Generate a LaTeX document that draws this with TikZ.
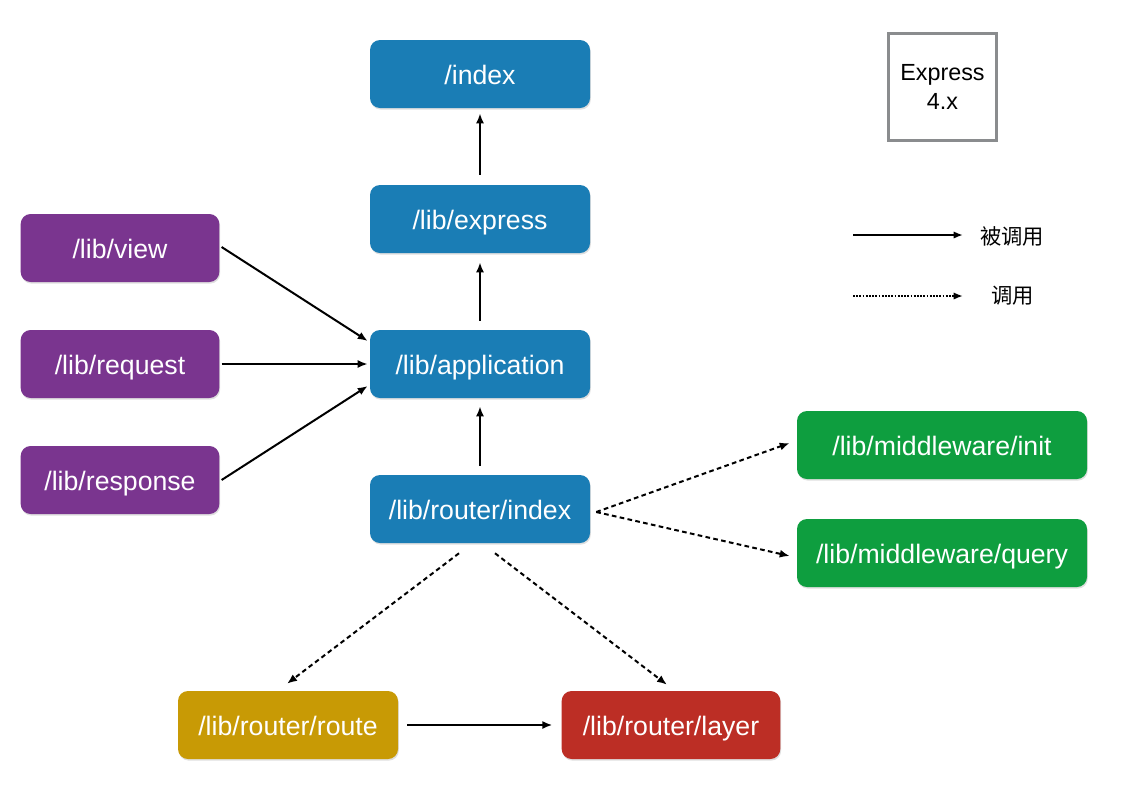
\documentclass[tikz,border=0pt]{standalone}
\usepackage{fontspec}
\setmainfont{Liberation Sans}
\newfontfamily\cjk{Noto Sans CJK SC}
\usetikzlibrary{arrows.meta,shadows,calc}
\definecolor{cblue}{HTML}{1A7DB5}
\definecolor{cpurple}{HTML}{7A358F}
\definecolor{cgreen}{HTML}{0E9E3F}
\definecolor{cgold}{HTML}{C89A05}
\definecolor{cred}{HTML}{BC2E25}
\definecolor{cgray}{HTML}{8A8C8E}
\begin{document}
\begin{tikzpicture}[x=0.75pt,y=-0.75pt,
  box/.style={rounded corners=7.5pt, minimum height=51pt, inner sep=0pt, text=white,
    font=\fontsize{20}{24}\selectfont, text height=18.5pt, text depth=2.5pt,
    drop shadow={opacity=0.25, shadow xshift=0.6pt, shadow yshift=-1.2pt}},
  bluebox/.style={box, fill=cblue, minimum width=165pt},
  purplebox/.style={box, fill=cpurple, minimum width=149pt},
  greenbox/.style={box, fill=cgreen, minimum width=217.5pt},
  goldbox/.style={box, fill=cgold, minimum width=165pt},
  redbox/.style={box, fill=cred, minimum width=164pt},
  call/.style={-{Latex[length=7.5pt,width=6pt]}, line width=1.5pt, black},
  invoke/.style={-{Latex[length=7.5pt,width=6pt]}, line width=1.5pt, black, dash pattern=on 3.5pt off 2.5pt},
  legcall/.style={-{Latex[length=7pt,width=5.5pt]}, line width=1.4pt, black},
  leginvoke/.style={-{Latex[length=7pt,width=5.5pt]}, line width=1.4pt, black, dash pattern=on 1.3pt off 1.1pt},
  legtext/.style={font=\cjk\fontsize{16}{19}\selectfont, inner sep=0pt}
]
\useasboundingbox (0,0) rectangle (1124,786);
\fill[white] (0,0) rectangle (1124,786);

\node[bluebox] (index) at (480,74) {/index};
\node[bluebox] (express) at (480,219) {/lib/express};
\node[bluebox] (app) at (480,364) {/lib/application};
\node[bluebox] (router) at (480,509) {/lib/router/index};

\node[purplebox] (view) at (120,248) {/lib/view};
\node[purplebox] (request) at (120,364) {/lib/request};
\node[purplebox] (response) at (120,480) {/lib/response};

\node[greenbox] (init) at (942,445) {/lib/middleware/init};
\node[greenbox] (query) at (942,553) {/lib/middleware/query};

\node[goldbox] (route) at (288,725) {/lib/router/route};
\node[redbox] (layer) at (671,725) {/lib/router/layer};

\node[draw=cgray, line width=2pt, minimum width=81pt, minimum height=80pt, inner sep=0pt,
  align=center, font=\fontsize{17.5}{21.5}\selectfont] (ver) at (942.5,87) {Express\\4.x};

% solid "called" arrows
\draw[call] ($(express.north)+(0,-10)$) -- ($(index.south)+(0,5)$);
\draw[call] ($(app.north)+(0,-9)$) -- ($(express.south)+(0,9)$);
\draw[call] ($(router.north)+(0,-9)$) -- ($(app.south)+(0,8)$);
\draw[call] ($(view.east)+(2,-1)$) -- ($(app.west)+(-2,-23)$);
\draw[call] ($(request.east)+(2,0)$) -- ($(app.west)+(-2,0)$);
\draw[call] ($(response.east)+(2,0)$) -- ($(app.west)+(-2,22)$);
\draw[call] ($(route.east)+(9,0)$) -- ($(layer.west)+(-9,0)$);

% dotted "invoke" arrows
\coordinate (rsrc) at ($(router.east)+(6,3)$);
\draw[invoke] (rsrc) -- ($(init.west)+(-7,-2)$);
\draw[invoke] (rsrc) -- ($(query.west)+(-7,3)$);
\draw[invoke] ($(router.south)+(-21,10)$) -- ($(route.north)+(-1,-7)$);
\draw[invoke] ($(router.south)+(15,10)$) -- ($(layer.north)+(-4,-6)$);

% legend
\coordinate (l1a) at (853,235);
\coordinate (l1b) at (963,235);
\coordinate (l2a) at (853,296);
\coordinate (l2b) at (963,296);
\draw[legcall] (l1a) -- (l1b);
\draw[leginvoke] (l2a) -- (l2b);
\node[legtext, anchor=west] (lt1) at (980,236) {被调用};
\node[legtext, anchor=west] (lt2) at (991,296) {调用};
\end{tikzpicture}
\end{document}
